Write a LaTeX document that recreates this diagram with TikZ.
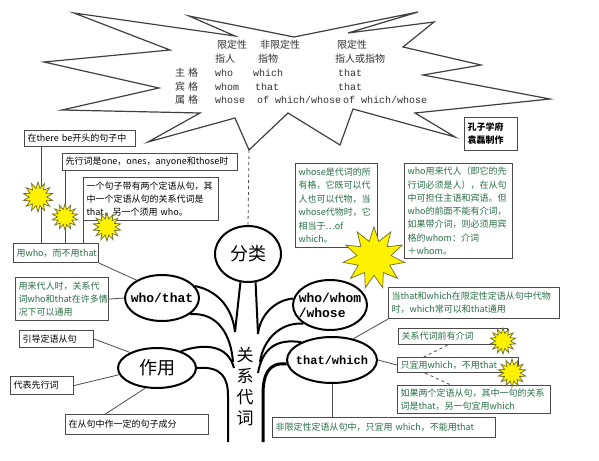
\documentclass[tikz,border=0pt]{standalone}
\usepackage{fontspec}
\setmainfont{Noto Sans CJK SC}
\newfontfamily\monof{Liberation Mono}
\usetikzlibrary{shapes.geometric,calc}
\definecolor{tg}{RGB}{40,110,70}
\definecolor{bc}{RGB}{75,75,75}
\definecolor{tabc}{RGB}{50,50,50}
\definecolor{burstline}{RGB}{110,110,40}
\begin{document}
\begin{tikzpicture}[x=1pt,y=-1pt,
  box/.style={draw=bc, line width=1.1pt, inner xsep=3pt, inner ysep=1pt, anchor=north west, align=left, font=\fontsize{9}{13}\selectfont},
  gbox/.style={box, text=tg},
  conn/.style={draw=bc, line width=0.8pt},
  dconn/.style={draw=bc, line width=0.8pt, dashed},
  tabtxt/.style={anchor=west, inner sep=0pt, text=tabc, font=\fontsize{10}{12}\selectfont},
  tabmono/.style={anchor=west, inner sep=0pt, text=tabc, font=\monof\fontsize{10}{12}\selectfont},
  ell/.style={ellipse, draw=black, line width=2pt, fill=white, inner sep=0pt},
  elllbl/.style={font=\monof\bfseries\fontsize{13}{15}\selectfont, align=left, inner sep=0pt},
  bigcn/.style={font=\fontsize{18}{20}\selectfont, inner sep=0pt},
  branch/.style={draw=black, line width=2pt},
  burst/.style={star, star points=#1, star point ratio=1.7, fill=yellow, draw=burstline, line width=0.7pt, inner sep=0pt}
]
\useasboundingbox[fill=white] (0,0) rectangle (599,460);

% big star outline
\draw[draw=black!75, line width=1.2pt, line join=miter]
  (74,13) -- (235,36) -- (189,16) -- (294,37) -- (418,12) -- (348,33) -- (434,22)
  -- (403,47) -- (481,65) -- (423,75) -- (550,99) -- (415,113) -- (455,137)
  -- (353,109) -- (340,145) -- (288,113) -- (249,150) -- (235,118) -- (148,142)
  -- (200,113) -- (62,110) -- (159,88) -- (44,62) -- (170,50) -- cycle;
\coordinate (st) at (249,150);

% table inside star
\node[tabtxt] (h1) at (217,45) {限定性};
\node[tabtxt] (h2) at (260,45) {非限定性};
\node[tabtxt] (h3) at (337,45) {限定性};
\node[tabtxt] (p1) at (215,59) {指人};
\node[tabtxt] (p2) at (258,59) {指物};
\node[tabtxt] (p3) at (335,59) {指人或指物};
\node[tabtxt] (r1) at (175,73) {主\hspace{3pt}格};
\node[tabmono] (r1a) at (215,73) {who};
\node[tabmono] (r1b) at (253,73) {which};
\node[tabmono] (r1c) at (338,73) {that};
\node[tabtxt] (r2) at (175,87) {宾\hspace{3pt}格};
\node[tabmono] (r2a) at (215,87) {whom};
\node[tabmono] (r2b) at (255,87) {that};
\node[tabmono] (r2c) at (338,87) {that};
\node[tabtxt] (r3) at (175,100) {属\hspace{3pt}格};
\node[tabmono] (r3a) at (215,100) {whose};
\node[tabmono] (r3b) at (257,100) {of which/whose};
\node[tabmono] (r3c) at (343,100) {of which/whose};

% boxes
\node[box, minimum width=111, minimum height=16, text width=105] (A) at (24,130) {在there be开头的句子中};
\node[box, minimum width=175, minimum height=17, text width=169] (B) at (62,153) {先行词是one，ones，anyone和those时};
\node[box, minimum width=135, minimum height=43, text width=129] (C) at (83,177) {一个句子带有两个定语从句，其\\中一个定语从句的关系代词是\\that，另一个须用 who。};
\node[gbox, minimum width=85, minimum height=19, text width=79] (D) at (13,243) {用who，而不用that};
\node[gbox, minimum width=93, minimum height=43, text width=87] (E) at (15,277) {用来代人时，关系代\\词who和that在许多情\\况下可以通用};
\node[box, minimum width=74, minimum height=17, text width=68] (F) at (19,330) {引导定语从句};
\node[box, minimum width=63, minimum height=18, text width=57] (G) at (10,376) {代表先行词};
\node[box, minimum width=143, minimum height=20, text width=137] (H) at (65,414) {在从句中作一定的句子成分};
\node[gbox, minimum width=82, minimum height=84, text width=76, font=\fontsize{9}{13.5}\selectfont] (I) at (295,163) {whose是代词的所\\有格，它既可以代\\人也可以代物，当\\whose代物时，它\\相当于…of\\which。};
\node[gbox, minimum width=108, minimum height=95, text width=102, font=\fontsize{9}{13.3}\selectfont] (J) at (404,163) {who用来代人（即它的先\\行词必须是人），在从句\\中可担任主语和宾语。但\\who的前面不能有介词，\\如果带介词，则必须用宾\\格的whom：介词\\＋whom。};
\node[gbox, minimum width=171, minimum height=31, text width=165] (K) at (388,287) {当that和which在限定性定语从句中代物\\时，which常可以和that通用};
\node[gbox, minimum width=109, minimum height=16, text width=103] (L) at (398,328) {关系代词前有介词};
\node[gbox, minimum width=121, minimum height=15, text width=115] (M) at (397,357) {只宜用which，不用that};
\node[gbox, minimum width=153, minimum height=28, text width=147] (N) at (397,385) {如果两个定语从句，其中一句的关系\\词是that，另一句宜用which};
\node[gbox, minimum width=223, minimum height=20, text width=217] (O) at (272,417) {非限定性定语从句中，只宜用 which，不能用that};
\node[box, minimum width=53, minimum height=33, text width=47, font=\bfseries\fontsize{9}{13}\selectfont] (P) at (464,117) {孔子学府\\袁磊制作};

% ellipses
\node[ell, minimum width=66, minimum height=56, label={[bigcn]center:分类}] (fl) at (248,254) {};
\node[ell, minimum width=74, minimum height=46, label={[elllbl]center:who/that}] (wt) at (162,298) {};
\node[ell, minimum width=78, minimum height=40, label={[bigcn]center:作用}] (zy) at (157,368) {};
\node[ell, minimum width=74, minimum height=50, label={[elllbl]center:who/whom\\/whose}] (www) at (330,305) {};
\node[ell, minimum width=90, minimum height=46, label={[elllbl, font=\monof\bfseries\fontsize{12}{14}\selectfont]center:that/which}] (tw) at (332,360) {};

% trunk text
\node[font=\fontsize{17}{21}\selectfont, align=center, inner sep=0pt] (trunk) at (245,387) {关\\系\\代\\词};

% tree branches
\coordinate (jl1) at (235,332);
\coordinate (jl2) at (233,362);
\coordinate (jl3) at (234,368);
\coordinate (jl4) at (228,396);
\coordinate (bl) at (228,442);
\coordinate (jr1) at (258,334);
\coordinate (jr2) at (260,362);
\coordinate (jr3) at (258,373);
\coordinate (jr4) at (263,395);
\coordinate (br) at (263,442);
\draw[branch] (fl.255) -- (jl1);
\draw[branch] (fl.285) -- (jr1);
\draw[branch] (wt.20) .. controls (215,290) and (232,305) .. (jl1);
\draw[branch] (wt.-30) .. controls (218,312) and (231,335) .. (jl2);
\draw[branch] (zy.35) .. controls (205,343) and (228,345) .. (jl3);
\draw[branch] (zy.0) .. controls (222,366) and (228,378) .. (jl4) -- (bl);
\draw[branch] (www.170) .. controls (275,300) and (260,315) .. (jr1);
\draw[branch] (www.215) .. controls (280,322) and (263,340) .. (jr2);
\draw[branch] (tw.150) .. controls (275,338) and (262,350) .. (jr3);
\draw[branch, line width=3pt] (tw.185) .. controls (268,362) and (263,375) .. (jr4) -- (br);

% connectors
\draw[dconn] (st) -- (fl.north);
\draw[conn] ($(A.south west)+(17,0)$) -- ($(D.north west)+(28,0)$);
\draw[conn] ($(B.south west)+(3,0)$) -- ($(D.north west)+(52,0)$);
\draw[conn] (C.south west) -- ($(D.north west)+(70,0)$);
\draw[conn] (D.south east) -- (wt.145);
\draw[conn] (E.east) -- (wt.west);
\draw[conn] (F.east) -- (zy.150);
\draw[conn] (G.east) -- (zy.190);
\draw[conn] ($(H.north west)!0.28!(H.north east)$) -- (zy.240);
\draw[conn] (K.south west) -- (tw.45);
\draw[conn] (tw.east) -- (M.west);
\draw[conn] (tw.south) -- (tw.south |- O.north);
\draw[dconn] ($(L.south west)!0.45!(L.south east)$) -- ($(M.north west)!0.22!(M.north east)$);
\draw[dconn] ($(M.south west)!0.23!(M.south east)$) -- ($(N.north west)!0.35!(N.north east)$);

% starbursts
\node[burst=14, minimum size=30] (b1) at (38,197) {};
\node[burst=14, minimum size=26] (b2) at (65,217) {};
\node[burst=14, minimum size=28] (b3) at (107,227) {};
\node[burst=11, minimum size=62, star point ratio=1.8] (b4) at (374,258) {};
\node[burst=14, minimum size=26] (b5) at (503,341) {};
\node[burst=14, minimum size=28] (b6) at (512,373) {};
\end{tikzpicture}
\end{document}
